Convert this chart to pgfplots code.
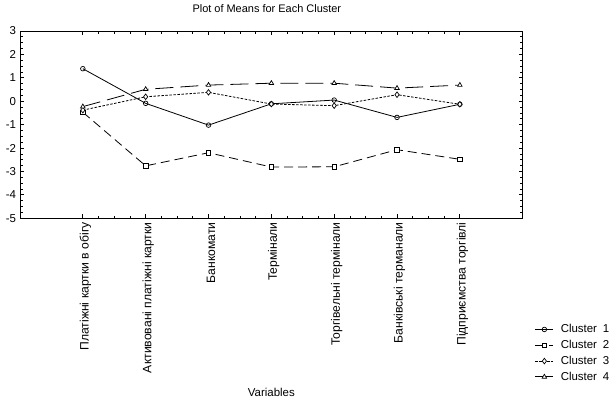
\documentclass[border=0pt]{standalone}
\usepackage{pgfplots}
\pgfplotsset{compat=1.18}
\usepackage{fontspec}
\setmainfont{Liberation Sans}
\begin{document}
\fontsize{11.5}{13.5}\selectfont
\begin{tikzpicture}[x=1bp,y=1bp]
\useasboundingbox (0,0) rectangle (613,398);
\begin{axis}[
  at={(20bp,179.7bp)}, anchor=south west,
  scale only axis, width=502.7bp, height=187.3bp,
  xmin=-1, xmax=7, ymin=-5, ymax=3,
  xtick={0,...,6},
  xticklabels={Платіжні картки в обігу, Активовані платіжні картки, Банкомати, Термінали, Торгівельні термінали, Банківські терманали, Підприємства торгівлі},
  xticklabel style={rotate=90, anchor=east, yshift=-2.5bp, font=\fontsize{12.2}{14}\selectfont},
  ytick={-5,...,3},
  yticklabels={-5,-4,-3,-2,-1,0,1,2,3},
  yticklabel style={font=\fontsize{11.5}{13.5}\selectfont},
  minor x tick num=3, minor y tick num=3,
  tick align=inside,
  major tick length=4bp, minor tick length=2.5bp,
  every tick/.style={black, line width=0.8bp},
  axis line style={line width=0.9bp},
  title={Plot of Means for Each Cluster},
  title style={at={(axis description cs:0.491,1.088)}, anchor=center, font=\fontsize{11}{13}\selectfont},
  xlabel={Variables},
  xlabel style={at={(axis description cs:0.5,-0.927)}, anchor=center, font=\fontsize{11.5}{13.5}\selectfont},
  legend style={at={(axis description cs:1.024,-0.555)}, anchor=north west, draw=none, fill=none, row sep=1.8bp, inner sep=0pt,
    legend cell align=left, font=\fontsize{11.5}{13.5}\selectfont},
  legend image code/.code={\draw[mark repeat=2,mark phase=2] plot coordinates {(0bp,0bp) (9bp,0bp) (18bp,0bp)};},
  every axis plot/.append style={black, line width=0.8bp, mark options={solid, fill=white, line width=0.7bp}},
]
\addplot[mark=o, mark size=2.3bp] coordinates {(0,1.39) (1,-0.09) (2,-1.02) (3,-0.11) (4,0.05) (5,-0.69) (6,-0.13)};
\addlegendentry{\hspace*{5bp}Cluster\enspace 1}
\addplot[mark=square*, mark size=2.2bp, dash pattern=on 9bp off 5bp] coordinates {(0,-0.47) (1,-2.76) (2,-2.20) (3,-2.81) (4,-2.80) (5,-2.07) (6,-2.48)};
\addlegendentry{\hspace*{5bp}Cluster\enspace 2}
\addplot[mark=diamond*, mark size=2.8bp, dash pattern=on 2.5bp off 1.5bp] coordinates {(0,-0.38) (1,0.19) (2,0.38) (3,-0.12) (4,-0.19) (5,0.28) (6,-0.13)};
\addlegendentry{\hspace*{5bp}Cluster\enspace 3}
\addplot[mark=triangle*, mark size=2.6bp, dash pattern=on 18bp off 7bp] coordinates {(0,-0.23) (1,0.51) (2,0.69) (3,0.77) (4,0.77) (5,0.56) (6,0.69)};
\addlegendentry{\hspace*{5bp}Cluster\enspace 4}
\end{axis}
\end{tikzpicture}
\end{document}
